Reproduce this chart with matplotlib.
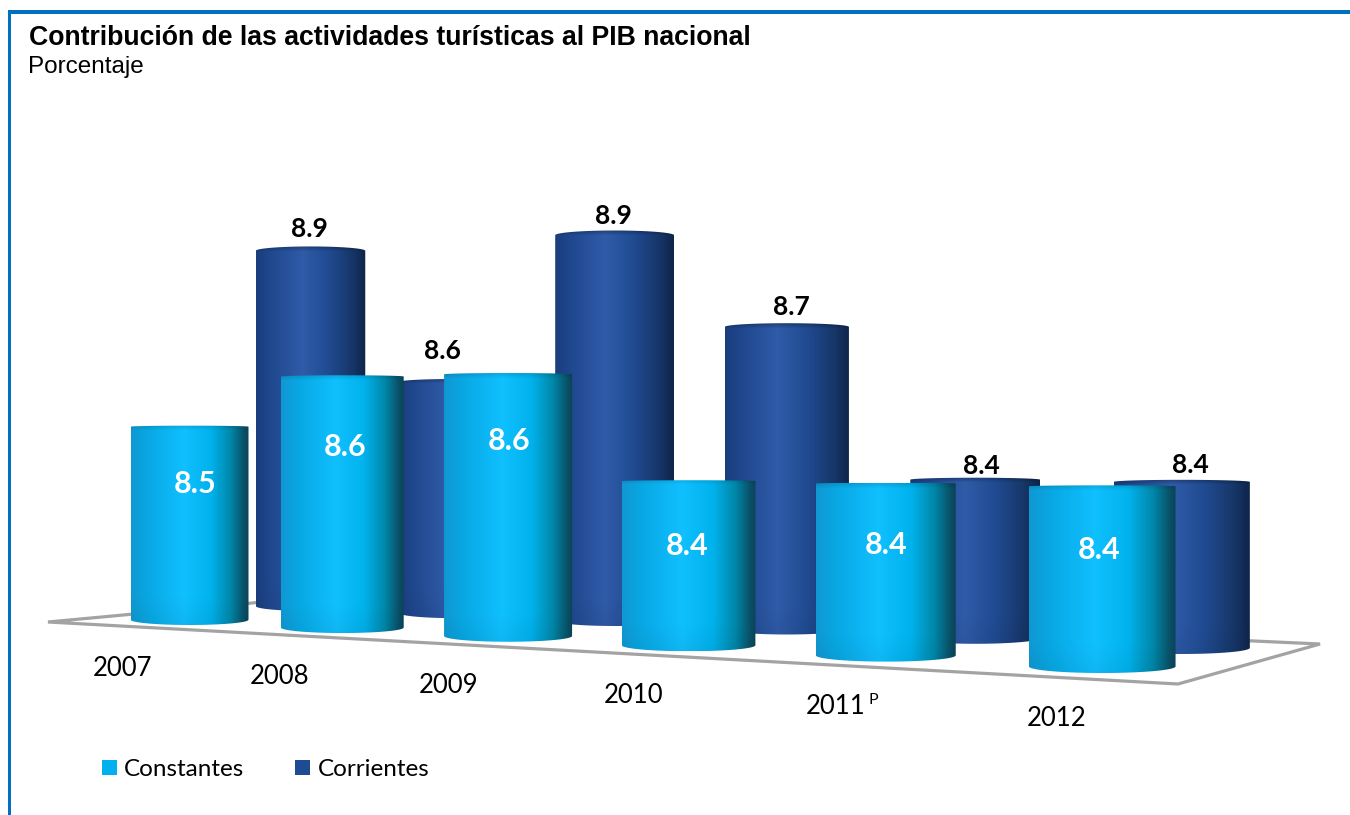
import numpy as np
import matplotlib
matplotlib.use('Agg')
import matplotlib.pyplot as plt
from matplotlib.colors import LinearSegmentedColormap
from matplotlib.patches import Patch, Polygon, Rectangle

years = ['2007', '2008', '2009', '2010', '2011', '2012']
constantes = [8.5, 8.6, 8.6, 8.4, 8.4, 8.4]
corrientes = [8.9, 8.6, 8.9, 8.7, 8.4, 8.4]

# perspective of the floor, in pixels of the 1350x815 picture
persp = -0.03914
rows = {
    'constantes': dict(x0=189.5, xb=139.4, y0=625, yb=-16.74, w0=118, bulge=0.005, dim=0.12),
    'corrientes': dict(x0=310.5, xb=128.0, y0=611, yb=-17.0, w0=109.5, bulge=0.012, dim=0.28),
    'years': dict(x0=123, xb=145.4, y0=668, yb=-18.1, w0=0),
}
height_k = 4.1
height_v0 = 8.088

light = LinearSegmentedColormap.from_list('light', [
    (0, '#1098d2'), (0.15, '#08a8e4'), (0.45, '#10c0ff'), (0.68, '#00b2ec'),
    (0.85, '#0086a8'), (0.96, '#0a5066'), (1, '#0a4458')])
dark = LinearSegmentedColormap.from_list('dark', [
    (0, '#1a3d7c'), (0.12, '#1f478d'), (0.42, '#2f5ba8'), (0.65, '#214c93'),
    (0.88, '#163668'), (1, '#0f2448')])


def place(row, i):
    r = rows[row]
    d = 1 + persp * i
    return (r['x0'] + r['xb'] * i) / d, (r['y0'] + r['yb'] * i) / d, r['w0'] / d


def cylinder(ax, row, i, value, cmap, z):
    cx, bottom, w = place(row, i)
    h = w * height_k * (value - height_v0)
    top = bottom - h
    bb = 0.045 * w
    tb = rows[row]['bulge'] * h
    t = np.linspace(0, np.pi, 40)
    top_arc = np.c_[cx - w / 2 * np.cos(t), top + tb - tb * np.sin(t)]
    bot_arc = np.c_[cx + w / 2 * np.cos(t), bottom - bb + bb * np.sin(t)]
    shape = Polygon(np.r_[top_arc, bot_arc], closed=True, transform=ax.transData,
                    fc='none', ec='none')
    ax.add_patch(shape)

    rgb = cmap(np.linspace(0, 1, 256))[:, :3]
    ny = max(int(h), 2)
    yy = np.arange(ny)
    shade = 1 - rows[row]['dim'] * np.clip(1 - yy / 5, 0, 1) - 0.05 * np.clip((yy - ny + 30) / 30, 0, 1)
    img = rgb[None, :, :] * shade[:, None, None]
    im = ax.imshow(img, extent=(cx - w / 2, cx + w / 2, bottom, top), aspect='auto',
                   zorder=z, interpolation='bilinear')
    im.set_clip_path(shape)
    return cx, top, h


fig = plt.figure(figsize=(13.5, 8.15), dpi=100)
ax = fig.add_axes([0, 0, 1, 1])
ax.axis('off')

# frame
ax.add_patch(Rectangle((7.5, 10), 1350, 3.5, fc='#0070c0', ec='none', zorder=5))
ax.add_patch(Rectangle((7.5, 10), 3.5, 815, fc='#0070c0', ec='none', zorder=5))

# floor
ax.add_patch(Polygon([(48, 622), (1178, 684), (1320, 644), (306, 598)], closed=True,
                     fc='white', ec='#a3a3a3', lw=2.3, zorder=1, joinstyle='miter'))

# label offsets from the top of each cylinder
off_dark = [(-1, -19), (-14, -30), (-1, -16), (4, -18), (6, -14), (9, -17)]
off_light = [(6, 56), (3, 70), (1, 66), (-1, 64), (0, 60), (-3, 63)]

for i, v in enumerate(corrientes):
    cx, top, h = cylinder(ax, 'corrientes', i, v, dark, 2 + i * 0.01)
    ax.text(cx + off_dark[i][0], top + off_dark[i][1] + 2, '%.1f' % v, ha='center', va='center',
            fontsize=19, fontweight='bold', family='Lato', color='black', zorder=6)

for i, v in enumerate(constantes):
    cx, top, h = cylinder(ax, 'constantes', i, v, light, 3 + i * 0.01)
    ax.text(cx + off_light[i][0], top + off_light[i][1] + 2, '%.1f' % v, ha='center', va='center',
            fontsize=22, fontweight='bold', family='Lato', color='white', zorder=6)

for i, y in enumerate(years):
    x, yp, _ = place('years', i)
    ax.text(x, yp, y, ha='center', va='center', fontsize=18.5, family='Lato', color='black')
x, yp, _ = place('years', 4)
ax.text(x + 38, yp - 6, 'P', ha='center', va='center', fontsize=11.5, family='Lato', color='black')

ax.text(29, 38, 'Contribución de las actividades turísticas al PIB nacional', fontsize=19.2,
        fontweight='bold', family='Liberation Sans', color='black', ha='left', va='center')
ax.text(28, 67, 'Porcentaje', fontsize=17.5, family='Liberation Sans', color='black',
        ha='left', va='center')

ax.set_xlim(0, 1350)
ax.set_ylim(815, 0)

handles = [Patch(fc='#02b0f0', ec='none', label='Constantes'),
           Patch(fc='#1f4a94', ec='none', label='Corrientes')]
ax.legend(handles=handles, loc='lower left', bbox_to_anchor=(102 / 1350, 1 - 780 / 815), frameon=False,
          ncol=2, prop={'family': 'Lato', 'size': 17.5}, handlelength=0.62, handleheight=0.62,
          handletextpad=0.29, columnspacing=2.1, borderpad=0, borderaxespad=0)

fig.savefig('out.png', dpi=100)
